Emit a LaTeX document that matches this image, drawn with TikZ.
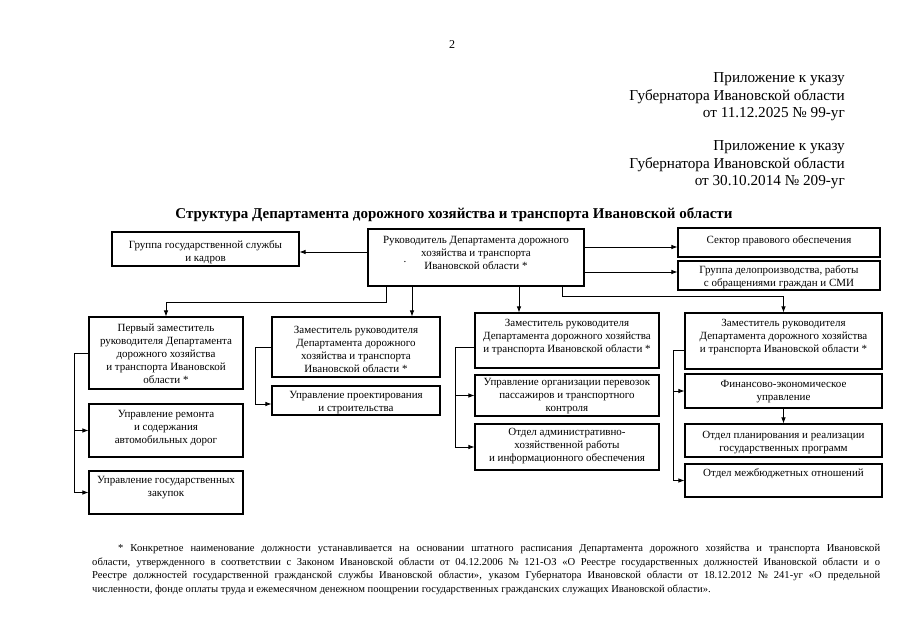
\documentclass[tikz,border=0pt]{standalone}
\usepackage{fontspec}
\setmainfont{Liberation Serif}
\usetikzlibrary{arrows.meta}
\newcommand\mybox[5]{\node[box, minimum width={(#4-#2)*1pt}, minimum height={(#5-#3)*1pt}] (#1) at ({(#2+#4)/2},{(#3+#5)/2}) {};}
\newcommand\mytext[4]{\node[txt] (#1) at (#2,#3) {#4};}
\begin{document}
\begin{tikzpicture}[x=1pt,y=-1pt,
  box/.style={draw, line width=1.1pt, inner sep=0pt},
  txt/.style={align=center, inner sep=0pt, font=\fontsize{11}{13}\selectfont},
  fnt/.style={anchor=west, inner sep=0pt, font=\fontsize{10.6}{12}\selectfont},
  arr/.style={line width=0.8pt, -{Latex[length=6pt,width=4.5pt]}}]
\fill[white] (0,0) rectangle (905,640);
\useasboundingbox (0,0) rectangle (905,640);

\node[font=\fontsize{12}{14}\selectfont, inner sep=0pt] (pg) at (452,45) {2};
\node[anchor=east, align=right, inner sep=0pt, font=\fontsize{15.2}{17.5}\selectfont] (hdr1) at (845,97) {Приложение к указу\\Губернатора Ивановской области\\от 11.12.2025 № 99-уг};
\node[anchor=east, align=right, inner sep=0pt, font=\fontsize{15.2}{17.5}\selectfont] (hdr2) at (845,165) {Приложение к указу\\Губернатора Ивановской области\\от 30.10.2014 № 209-уг};
\node[inner sep=0pt, font=\bfseries\fontsize{15}{18}\selectfont] (title) at (454,215) {Структура Департамента дорожного хозяйства и транспорта Ивановской области};

% boxes
\mybox{group}{112}{232}{299}{266}
\mybox{head}{368}{229}{584}{286}
\mybox{sector}{678}{228}{880}{257}
\mybox{group2}{678}{261}{880}{290}
\mybox{b1}{89}{317}{243}{389}
\mybox{b1a}{89}{404}{243}{457}
\mybox{b1b}{89}{471}{243}{514}
\mybox{b2}{272}{317}{440}{377}
\mybox{b2a}{272}{386}{440}{415}
\mybox{b3}{475}{313}{659}{368}
\mybox{b3a}{475}{375}{659}{416}
\mybox{b3b}{475}{424}{659}{470}
\mybox{b4}{685}{313}{882}{369}
\mybox{b4a}{685}{374}{882}{408}
\mybox{b4b}{685}{424}{882}{457}
\mybox{b4c}{685}{464}{882}{497}

% texts
\mytext{tgroup}{205.5}{252}{Группа государственной службы\\и кадров}
\mytext{thead}{476}{253}{Руководитель Департамента дорожного\\хозяйства и транспорта\\Ивановской области *}
\mytext{tdot}{405}{262}{.}
\mytext{tsector}{779}{241}{Сектор правового обеспечения}
\mytext{tgroup2}{779}{277.5}{Группа делопроизводства, работы\\с обращениями граждан и СМИ}
\mytext{tb1}{166}{354}{Первый заместитель\\руководителя Департамента\\дорожного хозяйства\\и транспорта Ивановской\\области *}
\mytext{tb1a}{166}{428}{Управление ремонта\\и содержания\\автомобильных дорог}
\mytext{tb1b}{166}{488}{Управление государственных\\закупок}
\mytext{tb2}{356}{349}{Заместитель руководителя\\Департамента дорожного\\хозяйства и транспорта\\Ивановской области *}
\mytext{tb2a}{356}{402.5}{Управление проектирования\\и строительства}
\mytext{tb3}{567}{337}{Заместитель руководителя\\Департамента дорожного хозяйства\\и транспорта Ивановской области *}
\mytext{tb3a}{567}{396}{Управление организации перевозок\\пассажиров и транспортного\\контроля}
\mytext{tb3b}{567}{446}{Отдел административно-\\хозяйственной работы\\и информационного обеспечения}
\mytext{tb4}{783.5}{337}{Заместитель руководителя\\Департамента дорожного хозяйства\\и транспорта Ивановской области *}
\mytext{tb4a}{783.5}{392}{Финансово-экономическое\\управление}
\mytext{tb4b}{783.5}{443}{Отдел планирования и реализации\\государственных программ}
\mytext{tb4c}{783.5}{474}{Отдел межбюджетных отношений}

% connectors
\draw[arr] (head.west |- 0,252) -- (group.east |- 0,252);
\draw[arr] (head.east |- 0,247) -- (sector.west |- 0,247);
\draw[arr] (head.east |- 0,272) -- (group2.west |- 0,272);
\draw[arr] (head.south -| 386,0) -- (386,302) -| (b1.north);
\draw[arr] (head.south -| 412,0) -- (b2.north -| 412,0);
\draw[arr] (head.south -| 519,0) -- (b3.north -| 519,0);
\draw[arr] (head.south -| 562,0) -- (562,296) -| (b4.north);

\draw[arr] (b1.west) -- (74,353) |- (b1b.west);
\draw[arr] (b1a.west -| 74,0) -- (b1a.west);
\draw[arr] (b2.west) -- (255,347) |- (b2a.west |- 0,404);
\draw[arr] (b3.west |- 0,347) -- (455,347) |- (b3b.west);
\draw[arr] (b3a.west -| 455,0) -- (b3a.west);
\draw[arr] (b4.west |- 0,350) -- (673,350) |- (b4c.west);
\draw[arr] (b4a.west -| 673,0) -- (b4a.west);
\draw[arr] (b4a.south) -- (b4b.north);

% footnote
\node[fnt] (fn1) at (118,549) {\makebox[762pt][s]{* Конкретное наименование должности устанавливается на основании штатного расписания Департамента дорожного хозяйства и транспорта Ивановской}};
\node[fnt] (fn2) at (92,563) {\makebox[788pt][s]{области, утвержденного в соответствии с Законом Ивановской области от 04.12.2006 № 121-ОЗ «О Реестре государственных должностей Ивановской области и о}};
\node[fnt] (fn3) at (92,576) {\makebox[788pt][s]{Реестре должностей государственной гражданской службы Ивановской области», указом Губернатора Ивановской области от 18.12.2012 № 241-уг «О предельной}};
\node[fnt] (fn4) at (92,590) {численности, фонде оплаты труда и ежемесячном денежном поощрении государственных гражданских служащих Ивановской области».};
\end{tikzpicture}
\end{document}
